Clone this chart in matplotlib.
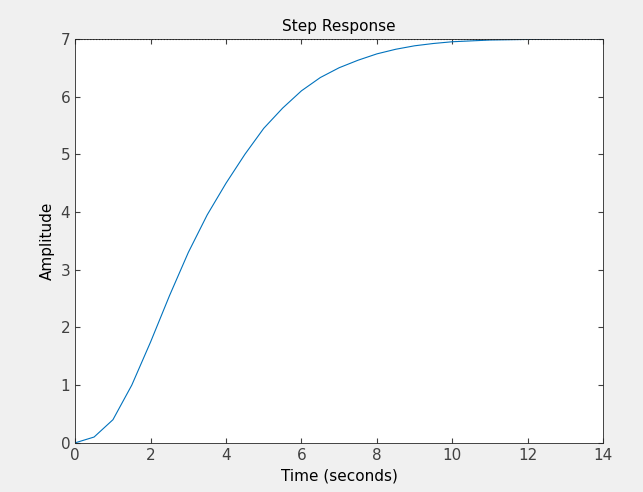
import matplotlib.pyplot as plt

time = [0, 0.5, 1, 1.5, 2, 2.5, 3, 3.5, 4, 4.5, 5, 5.5, 6, 6.5, 7, 7.5, 8, 8.5, 9, 9.5, 10, 11, 12, 13, 14]
amplitude = [0, 0.1, 0.4, 1.0, 1.75, 2.55, 3.3, 3.95, 4.5, 5.0, 5.45, 5.8, 6.1, 6.33, 6.5, 6.63, 6.74, 6.82,
             6.88, 6.92, 6.95, 6.98, 6.99, 7.0, 7.0]
final_value = 7

fig = plt.figure(figsize=(6.43, 4.92), dpi=100, facecolor='#f0f0f0')
ax = fig.add_axes([0.117, 0.1, 0.821, 0.821])
ax.plot(time, amplitude, color='#0072bd', linewidth=0.8)
ax.axhline(final_value, color='k', linestyle=':', linewidth=0.8)
ax.set_xlim(0, 14)
ax.set_ylim(0, 7)
ax.set_xticks(range(0, 15, 2))
ax.set_yticks(range(0, 8))
ax.tick_params(direction='in', top=True, right=True, labelsize=11, colors='#404040', labelcolor='#404040')
for s in ax.spines.values():
    s.set_color('#262626')
    s.set_linewidth(0.6)
ax.set_title('Step Response', fontsize=11)
ax.set_xlabel('Time (seconds)', fontsize=11)
ax.set_ylabel('Amplitude', fontsize=11)
fig.savefig('out.png', facecolor=fig.get_facecolor())
